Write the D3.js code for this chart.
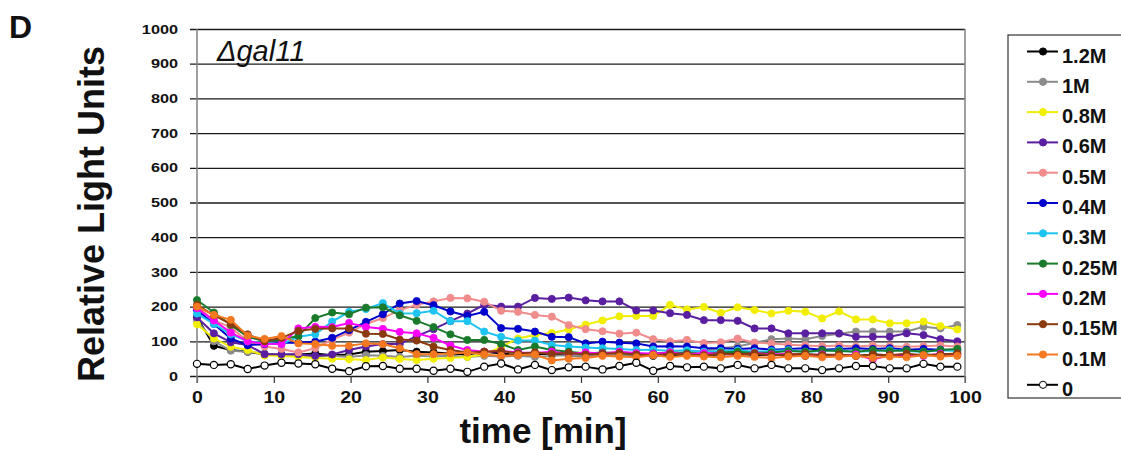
<!DOCTYPE html>
<html>
<head>
<meta charset="utf-8">
<script src="https://cdn.jsdelivr.net/npm/d3@7"></script>
<style>
  body { margin: 0; background: #fff; }
  svg { font-family: "Liberation Sans", Arial, sans-serif; }
</style>
</head>
<body>
<script>
// Luminescence time course, delta gal11 strain, one line per salt concentration.

const times = [0, 2.2, 4.4, 6.6, 8.8, 11, 13.2, 15.4, 17.6, 19.8, 22, 24.2, 26.4, 28.6, 30.8, 33,
  35.2, 37.4, 39.6, 41.8, 44, 46.2, 48.4, 50.6, 52.8, 55, 57.2, 59.4, 61.6, 63.8, 66, 68.2,
  70.4, 72.6, 74.8, 77, 79.2, 81.4, 83.6, 85.8, 88, 90.2, 92.4, 94.6, 96.8, 99];

const labels = ["1.2M", "1M", "0.8M", "0.6M", "0.5M", "0.4M", "0.3M", "0.25M", "0.2M", "0.15M", "0.1M", "0"];
const colors = ["#000000", "#8c8c8c", "#f2ee00", "#5a1ea0", "#f08c8c", "#0000cc", "#1ec4f0",
  "#1a7a2c", "#ff00ff", "#8b3a10", "#f47820", "#000000"];

const s12 = [170, 87, 75, 70, 62, 60, 62, 65, 60, 62, 70, 72, 75, 70, 68, 65, 62, 70, 65, 60, 62, 65, 60,
  58, 62, 60, 62, 58, 60, 62, 60, 62, 65, 60, 62, 60, 58, 62, 60, 58, 62, 60, 58, 62, 60, 65];
const s10 = [160, 100, 73, 70, 65, 60, 58, 56, 58, 55, 60, 58, 55, 58, 56, 58, 55, 58, 56, 58, 55, 58, 60,
  58, 62, 60, 62, 60, 65, 68, 72, 80, 85, 96, 106, 108, 106, 115, 122, 128, 128, 128, 128, 142, 137, 147];
const s08 = [149, 108, 84, 75, 59, 58, 55, 52, 50, 48, 46, 53, 49, 46, 50, 52, 55, 62, 84, 108, 118, 124,
  134, 148, 160, 172, 173, 173, 205, 192, 199, 182, 198, 190, 180, 188, 185, 166, 186, 163, 163, 152, 152, 157, 144, 134];
const s06 = [169, 123, 97, 89, 63, 63, 63, 58, 62, 75, 85, 92, 92, 115, 135, 158, 180, 205, 200, 200, 225,
  222, 226, 218, 215, 215, 189, 189, 181, 176, 161, 161, 159, 137, 137, 123, 123, 123, 123, 113, 113, 113, 123, 118, 106, 100];
const s05 = [200, 160, 140, 100, 85, 78, 68, 80, 105, 125, 150, 167, 190, 205, 215, 225, 224, 214, 188, 185,
  176, 171, 147, 135, 129, 122, 125, 106, 100, 104, 95, 97, 108, 96, 94, 90, 88, 86, 88, 85, 88, 86, 84, 86, 88, 85];
const s04 = [190, 150, 108, 89, 92, 96, 96, 99, 110, 132, 156, 178, 209, 216, 204, 186, 173, 185, 138, 136,
  128, 113, 112, 94, 99, 96, 94, 85, 86, 85, 80, 80, 78, 80, 76, 78, 80, 76, 78, 80, 78, 80, 76, 78, 76, 75];
const s03 = [180, 150, 120, 100, 95, 92, 113, 120, 157, 185, 193, 210, 180, 181, 188, 158, 158, 128, 113,
  102, 102, 89, 85, 82, 80, 78, 75, 76, 72, 74, 70, 72, 74, 70, 72, 75, 70, 72, 74, 70, 72, 75, 72, 70, 74, 72];
const s025 = [219, 183, 147, 113, 100, 105, 115, 167, 183, 178, 197, 198, 175, 159, 141, 120, 104, 104, 92,
  75, 85, 75, 70, 65, 68, 66, 62, 65, 68, 66, 64, 68, 70, 66, 68, 72, 70, 74, 72, 70, 75, 72, 74, 70, 75, 78];
const s02 = [195, 160, 125, 100, 93, 92, 137, 142, 141, 153, 141, 136, 127, 123, 110, 88, 75, 70, 72, 68,
  66, 70, 64, 68, 65, 70, 66, 64, 68, 62, 66, 64, 60, 66, 62, 64, 60, 62, 58, 62, 48, 60, 62, 58, 64, 60];
const s015 = [205, 175, 150, 120, 100, 110, 130, 136, 137, 137, 122, 121, 105, 102, 85, 75, 68, 70, 72, 65,
  68, 64, 66, 62, 64, 66, 62, 60, 64, 62, 60, 64, 62, 65, 60, 62, 64, 60, 62, 58, 62, 60, 64, 60, 62, 65];
const s01 = [200, 176, 162, 116, 107, 115, 94, 92, 87, 87, 94, 92, 80, 63, 63, 65, 68, 62, 58, 60, 62, 45,
  50, 52, 58, 56, 54, 60, 55, 58, 56, 54, 58, 55, 52, 56, 58, 54, 56, 58, 52, 56, 54, 60, 56, 58];
const s0 = [35, 32, 34, 20, 30, 38, 36, 34, 21, 14, 28, 29, 21, 21, 15, 21, 12, 27, 36, 19, 32, 17, 25, 27,
  19, 29, 38, 15, 29, 25, 27, 22, 32, 22, 32, 22, 22, 17, 22, 29, 29, 22, 22, 35, 27, 27];

const values = [s12, s10, s08, s06, s05, s04, s03, s025, s02, s015, s01, s0];

const yTicks = [0, 100, 200, 300, 400, 500, 600, 700, 800, 900, 1000];
const xTicks = [0, 10, 20, 30, 40, 50, 60, 70, 80, 90, 100];

const width = 1121;
const height = 450;
const plotLeft = 197, plotRight = 965, plotTop = 29, plotBottom = 376;

let svg = d3.select("body")
    .append("svg")
    .attr("width", width)
    .attr("height", height);

let x = d3.scaleLinear().domain([0, 100]).range([plotLeft, plotRight]);
let y = d3.scaleLinear().domain([0, 1000]).range([plotBottom, plotTop]);

// stretch tick labels sideways, the source figure is a bit wide
function stretch(sel, k) {
  sel.each(function () {
    let w = this.getComputedTextLength();
    d3.select(this).attr("textLength", w * k).attr("lengthAdjust", "spacingAndGlyphs");
  });
}

// gridlines + y labels
let gy = svg.append("g")
    .attr("transform", "translate(" + (plotLeft - 7) + ",0)")
    .call(d3.axisLeft(y).tickValues(yTicks).tickFormat(d3.format("d"))
      .tickSize(-(plotRight - plotLeft + 7)).tickPadding(12));
gy.select(".domain").remove();
gy.selectAll("line").attr("stroke", "#1a1a1a").attr("stroke-width", 1.3);
gy.selectAll("text")
    .attr("font-size", 13).attr("font-weight", "bold").attr("fill", "#111")
    .call(stretch, 1.25);

// x axis ticks
let gx = svg.append("g")
    .attr("transform", "translate(0," + plotBottom + ")")
    .call(d3.axisBottom(x).tickValues(xTicks).tickSize(7).tickPadding(9));
gx.select(".domain").remove();
gx.selectAll("line").attr("stroke", "#333").attr("stroke-width", 1.2);
gx.selectAll("text")
    .attr("font-size", 16).attr("font-weight", "bold").attr("fill", "#111")
    .call(stretch, 1.22);

// plot frame sides
svg.append("line")
    .attr("x1", plotLeft).attr("x2", plotLeft).attr("y1", plotTop).attr("y2", plotBottom + 7)
    .attr("stroke", "#808080").attr("stroke-width", 1.5);
svg.append("line")
    .attr("x1", plotRight).attr("x2", plotRight).attr("y1", plotTop).attr("y2", plotBottom + 7)
    .attr("stroke", "#808080").attr("stroke-width", 1.5);

let line = d3.line()
    .x(function (d, i) { return x(times[i]); })
    .y(function (d) { return y(d); });

values.forEach(function (vals, k) {
  let g = svg.append("g");
  g.append("path")
      .attr("d", line(vals))
      .attr("fill", "none")
      .attr("stroke", colors[k])
      .attr("stroke-width", 2);
  g.selectAll("circle")
      .data(vals)
      .enter()
      .append("circle")
      .attr("cx", function (d, i) { return x(times[i]); })
      .attr("cy", function (d) { return y(d); })
      .attr("r", 3.6)
      .attr("fill", labels[k] === "0" ? "#fff" : colors[k])
      .attr("stroke", colors[k])
      .attr("stroke-width", labels[k] === "0" ? 1.2 : 0.8);
});

// legend
let lg = svg.append("g");
lg.append("rect")
    .attr("x", 1008).attr("y", 35).attr("width", 140).attr("height", 363)
    .attr("fill", "#fff").attr("stroke", "#333").attr("stroke-width", 1.2);

let item = lg.selectAll(".item")
    .data(labels)
    .enter()
    .append("g")
    .attr("class", "item")
    .attr("transform", function (d, i) { return "translate(0," + (51.5 + i * 30.3) + ")"; });

item.append("line")
    .attr("x1", 1027).attr("x2", 1058).attr("y1", 0).attr("y2", 0)
    .attr("stroke", function (d, i) { return colors[i]; })
    .attr("stroke-width", 2);
item.append("circle")
    .attr("cx", 1043).attr("cy", 0).attr("r", 3.6)
    .attr("fill", function (d, i) { return d === "0" ? "#fff" : colors[i]; })
    .attr("stroke", function (d, i) { return colors[i]; });
item.append("text")
    .attr("x", 1062).attr("y", 11)
    .attr("font-size", 20).attr("font-weight", "bold").attr("fill", "#111")
    .text(function (d) { return d; });

// titles
svg.append("text")
    .attr("transform", "translate(104,214) rotate(-90)")
    .attr("text-anchor", "middle")
    .attr("font-size", 36).attr("font-weight", "bold").attr("fill", "#111")
    .text("Relative Light Units");

svg.append("text")
    .attr("x", 543).attr("y", 443)
    .attr("text-anchor", "middle")
    .attr("font-size", 35).attr("font-weight", "bold").attr("fill", "#111")
    .text("time [min]");

svg.append("text")
    .attr("x", 9).attr("y", 38)
    .attr("font-size", 32).attr("font-weight", "bold").attr("fill", "#111")
    .text("D");

svg.append("text")
    .attr("x", 217).attr("y", 61)
    .attr("font-size", 29).attr("font-style", "italic").attr("fill", "#111")
    .text("\u0394gal11");
</script>
</body>
</html>
